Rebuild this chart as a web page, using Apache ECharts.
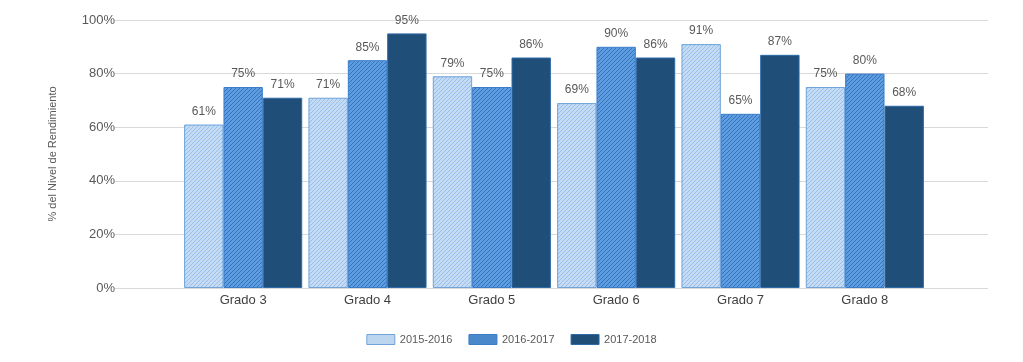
<!DOCTYPE html>
<html>
<head>
<meta charset="utf-8">
<script src="https://cdn.jsdelivr.net/npm/echarts@6/dist/echarts.min.js"></script>
<style>
html,body{margin:0;padding:0;background:#fff;}
#c{width:1023px;height:362px;}
</style>
</head>
<body>
<div id="c"></div>
<script>
const categories = ['Grado 3','Grado 4','Grado 5','Grado 6','Grado 7','Grado 8'];
const seriesNames = ['2015-2016','2016-2017','2017-2018'];
const s2015 = [61,71,79,69,91,75];
const s2016 = [75,85,75,90,65,80];
const s2017 = [71,95,86,86,87,68];
const yTicks = [0,20,40,60,80,100];

function hatch(bg, line, w) {
  const c = document.createElement('canvas');
  c.width = 4; c.height = 4;
  const g = c.getContext('2d');
  g.fillStyle = bg; g.fillRect(0,0,4,4);
  g.strokeStyle = line; g.lineWidth = w;
  g.beginPath();
  g.moveTo(-1,5); g.lineTo(5,-1);
  g.moveTo(-1,1); g.lineTo(1,-1);
  g.moveTo(3,5); g.lineTo(5,3);
  g.stroke();
  return {image: c, repeat: 'repeat'};
}

const p1 = hatch('#c4dbf3', '#98bfe9', 1);
const p2 = hatch('#5d9de0', '#3572bd', 1);
const fills = [p1, p2, '#1f4e79'];
const borders = ['#6fa3d9', '#3b7cc7', '#2e6aa8'];
const legendFills = ['#bcd6f0', '#4a88cc', '#1f4e79'];
const data = [s2015, s2016, s2017];

const chart = echarts.init(document.getElementById('c'), null, {renderer: 'canvas'});
const font = 'Liberation Sans, Arial, sans-serif';

chart.setOption({
  animation: false,
  textStyle: {fontFamily: font},
  grid: [
    {left: 120, right: 35, top: 20, bottom: 74},
    {left: 181, right: 96, top: 20, bottom: 74}
  ],
  legend: {
    bottom: 12,
    left: 'center',
    icon: 'rect',
    itemWidth: 28, itemHeight: 10, itemGap: 16,
    textStyle: {fontSize: 11, color: '#595959', fontFamily: font},
    data: seriesNames.map((n, i) => ({name: n, itemStyle: {color: legendFills[i], borderColor: borders[i], borderWidth: 1}}))
  },
  xAxis: [
    {type: 'category', gridIndex: 0, data: categories, show: false},
    {type: 'category', gridIndex: 1, data: categories,
     axisLine: {show: false}, axisTick: {show: false},
     axisLabel: {fontSize: 13, color: '#404040', margin: 6, fontFamily: font}}
  ],
  yAxis: [
    {type: 'value', gridIndex: 0, min: yTicks[0], max: yTicks[yTicks.length-1], interval: 20,
     name: '% del Nivel de Rendimiento', nameLocation: 'middle', nameGap: 62,
     nameTextStyle: {fontSize: 11, color: '#595959', fontFamily: font},
     axisLine: {show: false},
     axisTick: {show: true, length: 5, inside: false, lineStyle: {color: '#d9d9d9'}},
     axisLabel: {fontSize: 13, color: '#595959', margin: 5, formatter: '{value}%', fontFamily: font},
     splitLine: {lineStyle: {color: '#d9d9d9', width: 1}}},
    {type: 'value', gridIndex: 1, min: 0, max: 100, show: false, splitLine: {show: false}}
  ],
  series: seriesNames.map((n, i) => ({
    name: n, type: 'bar', xAxisIndex: 1, yAxisIndex: 1,
    data: data[i],
    barGap: '0%', barCategoryGap: '5%',
    itemStyle: {color: fills[i], borderColor: borders[i], borderWidth: 1},
    label: {show: true, position: 'top', distance: 7, fontSize: 12, color: '#595959', fontFamily: font, formatter: '{c}%'}
  }))
});
</script>
</body>
</html>
